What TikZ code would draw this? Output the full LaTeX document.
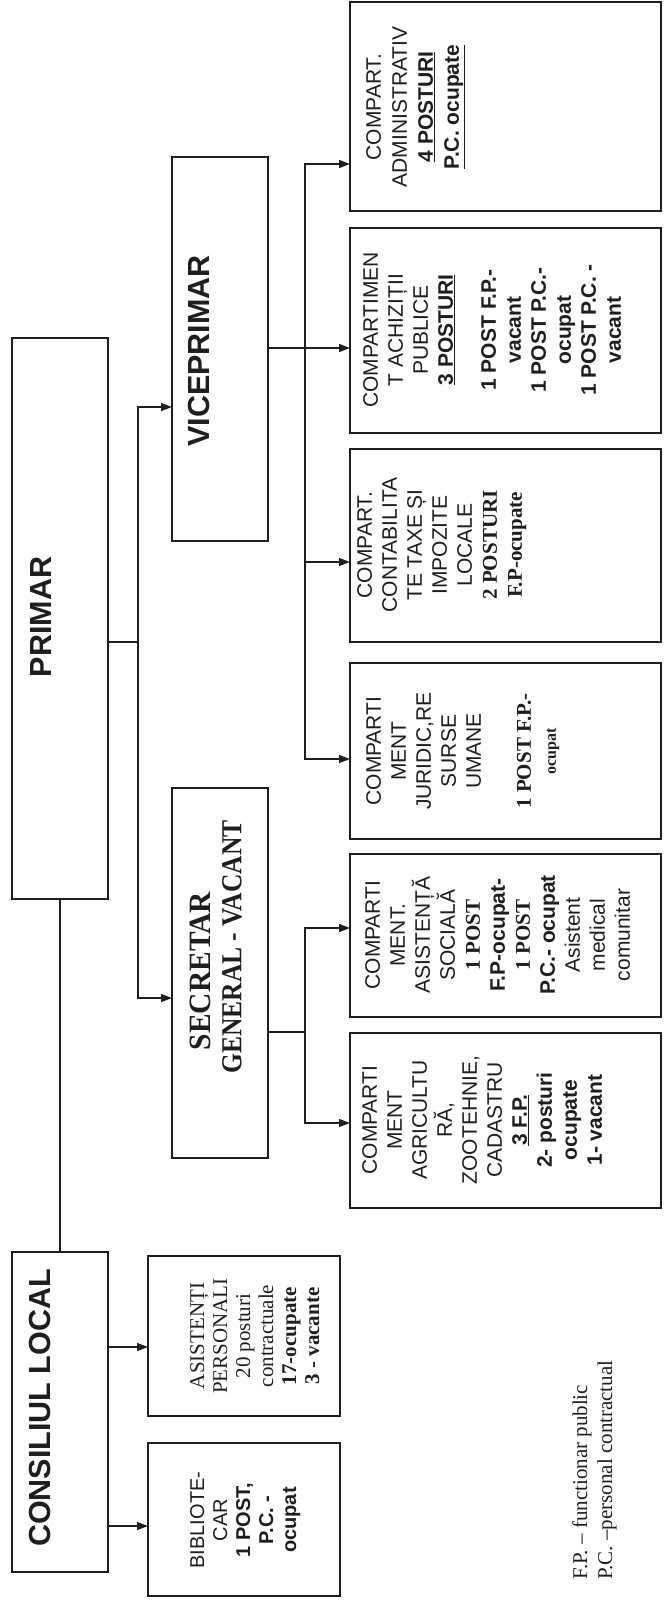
\documentclass[tikz,border=0pt]{standalone}
\usepackage{fontspec}
\setmainfont{Liberation Serif}
\setsansfont{Liberation Sans}
\usetikzlibrary{arrows.meta}
\definecolor{ink}{RGB}{30,30,30}
\begin{document}
\begin{tikzpicture}[x=1pt,y=-1pt,
  box/.style={draw=ink, line width=1.6pt, rectangle, inner sep=0pt},
  cbox/.style={box, minimum width=311pt},
  conn/.style={draw=ink, line width=1.3pt},
  arr/.style={conn, -{Triangle[length=11pt,width=8pt]}},
  txt/.style={rotate=90, anchor=north, align=center, inner sep=0pt, text=ink,
              font=\sffamily\fontsize{21}{25}\selectfont},
  big/.style={rotate=90, inner sep=0pt, text=ink,
              font=\sffamily\bfseries\fontsize{30.5}{32}\selectfont},
  note/.style={rotate=90, anchor=west, inner sep=0pt, text=ink,
              font=\rmfamily\fontsize{21}{25}\selectfont}]
\fill[white] (0,0) rectangle (664,1604);
\useasboundingbox (0,0) rectangle (664,1604);

% ---------- boxes ----------
\node[box, minimum width=96pt, minimum height=320pt] (consiliu) at (60,1412) {};
\node[box, minimum width=96pt, minimum height=561pt] (primar) at (60,618.5) {};
\node[box, minimum width=96pt, minimum height=384pt] (vice) at (220,349) {};
\node[box, minimum width=96pt, minimum height=370pt] (secr) at (220,973) {};
\node[box, minimum width=192pt, minimum height=153pt] (biblio) at (244,1519.5) {};
\node[box, minimum width=192pt, minimum height=160pt] (asist) at (244,1336) {};
\node[cbox, minimum height=209pt] (admin) at (505.5,106.5) {};
\node[cbox, minimum height=205pt] (achiz) at (505.5,330.5) {};
\node[cbox, minimum height=193pt] (contab) at (505.5,545.5) {};
\node[cbox, minimum height=176pt] (jurid) at (505.5,751) {};
\node[cbox, minimum height=163pt] (asoc) at (505.5,935.5) {};
\node[cbox, minimum height=175pt] (agric) at (505.5,1120.5) {};

% ---------- texts ----------
\node[big] (tconsiliu) at (40,1408) {CONSILIUL LOCAL};
\node[big] (tprimar) at (41,617) {PRIMAR};
\node[big] (tvice) at (199,351) {VICEPRIMAR};
\node[rotate=90, xscale=.95, inner sep=0pt, text=ink,
      font=\rmfamily\bfseries\fontsize{31}{31}\selectfont] (tsec1) at (200,971) {SECRETAR};
\node[rotate=90, xscale=.88, inner sep=0pt, text=ink,
      font=\rmfamily\bfseries\fontsize{29}{29}\selectfont] (tsec2) at (232,947) {GENERAL - VACANT};

\node[txt, font=\sffamily\fontsize{20}{23}\selectfont] (tbiblio) at (190,1520)
  {BIBLIOTE-\\CAR\\\textbf{1 POST,}\\\textbf{P.C. -}\\\textbf{ocupat}};
\node[txt, font=\rmfamily\fontsize{21}{23}\selectfont] (tasist) at (190,1336)
  {ASISTENȚI\\PERSONALI\\20 posturi\\contractuale\\\textbf{17-ocupate}\\\textbf{3 - vacante}};

\node[txt] (tagric) at (362,1120)
  {COMPARTI\\MENT\\AGRICULTU\\RĂ,\\ZOOTEHNIE,\\CADASTRU\\\textbf{\underline{3 F.P.}}\\\textbf{2- posturi}\\\textbf{ocupate}\\\textbf{1- vacant}};
\node[txt] (tasoc) at (365,935)
  {COMPARTI\\MENT.\\ASISTENȚĂ\\SOCIALĂ\\{\rmfamily\bfseries 1 POST}\\\textbf{F.P-ocupat-}\\{\rmfamily\bfseries 1 POST}\\\textbf{P.C.- ocupat}\\Asistent\\medical\\comunitar};
\node[txt] (tjurid) at (366,751)
  {COMPARTI\\MENT\\JURIDIC,RE\\SURSE\\UMANE\\[25pt]{\rmfamily\bfseries 1 POST F.P.-}\\{\rmfamily\bfseries\fontsize{16}{25}\selectfont ocupat}};
\node[txt] (tcontab) at (357,545)
  {COMPART.\\CONTABILITA\\TE TAXE ȘI\\IMPOZITE\\LOCALE\\{\rmfamily\bfseries 2 POSTURI}\\{\rmfamily\bfseries F.P-ocupate}};
\node[txt] (tachiz) at (363,330)
  {COMPARTIMEN\\T ACHIZIȚII\\PUBLICE\\\textbf{\underline{3 POSTURI}}\\[18pt]\textbf{1 POST F.P.-}\\\textbf{vacant}\\\textbf{1 POST P.C.-}\\\textbf{ocupat}\\\textbf{1 POST P.C. -}\\\textbf{vacant}};
\node[txt, font=\sffamily\fontsize{21}{26}\selectfont] (tadmin) at (366,107)
  {COMPART.\\ADMINISTRATIV\\\textbf{\underline{4 POSTURI}}\\\textbf{\underline{P.C. ocupate}}};

\node[note] (fn1) at (582,1580) {F.P. – functionar public};
\node[note] (fn2) at (607,1580) {P.C. –personal contractual};

% ---------- connectors ----------
\draw[conn] (primar.south) -- (consiliu.north);
\coordinate (asIn) at (148,1347);
\coordinate (biIn) at (148,1526);
\draw[arr] (consiliu.east |- asIn) -- (asIn);
\draw[arr] (consiliu.east |- biIn) -- (biIn);

\coordinate (pj) at (138,642);
\coordinate (viceIn) at (172,407);
\coordinate (secIn) at (172,998);
\draw[conn] (primar.east |- pj) -- (pj);
\draw[arr] (pj) |- (viceIn);
\draw[arr] (pj) |- (secIn);

\coordinate (vj) at (305,348);
\coordinate (adIn) at (350,164);
\coordinate (acIn) at (350,348);
\coordinate (coIn) at (350,562);
\coordinate (juIn) at (350,759);
\draw[conn] (vice.east |- vj) -- (vj);
\draw[arr] (vj) |- (adIn);
\draw[arr] (vj) -- (acIn);
\draw[arr] (vj) |- (coIn);
\draw[arr] (vj) |- (juIn);

\coordinate (sj) at (305,1032);
\coordinate (soIn) at (350,928);
\coordinate (agIn) at (350,1123);
\draw[conn] (secr.east |- sj) -- (sj);
\draw[arr] (sj) |- (soIn);
\draw[arr] (sj) |- (agIn);
\end{tikzpicture}
\end{document}
